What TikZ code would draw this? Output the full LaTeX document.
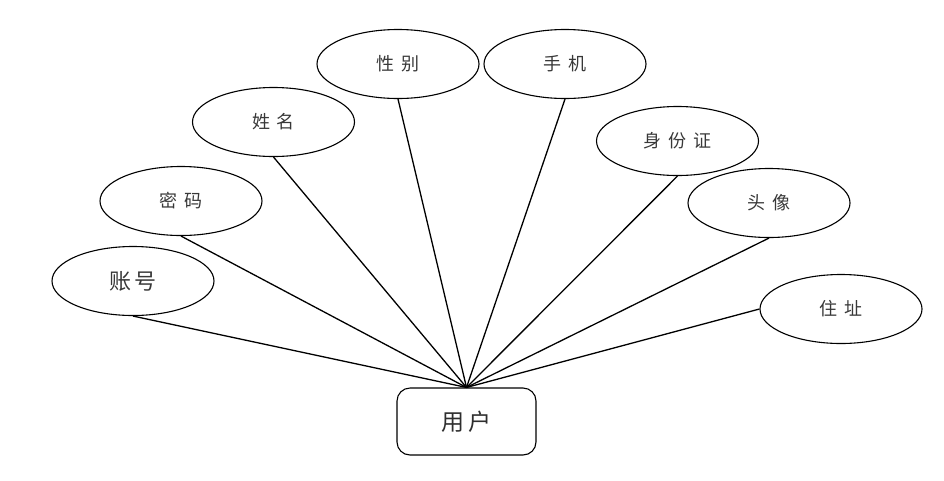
\documentclass[tikz,border=0pt]{standalone}
\usepackage{fontspec}
\newfontfamily\cjk{Noto Sans CJK SC}
\usetikzlibrary{shapes.geometric}
\newcommand{\gp}{\hspace{7pt}}
\begin{document}
\begin{tikzpicture}[x=1pt,y=-1pt,
  attr/.style={ellipse,draw,line width=1.1pt,minimum width=162pt,minimum height=69pt,inner sep=0pt,font=\cjk\fontsize{18}{18}\selectfont,text=black!78},
  ent/.style={rectangle,draw,rounded corners=13pt,line width=1.1pt,minimum width=139pt,minimum height=67pt,font=\cjk\fontsize{23}{23}\selectfont,text=black!82},
  link/.style={line width=1.3pt}]
\useasboundingbox (0,0) rectangle (944,480);
\node[ent] (u) at (466.5,421.5) {用\hspace{4pt}户};
\node[attr,font=\cjk\fontsize{22}{22}\selectfont] (a1) at (133,281) {账\hspace{3pt}号};
\node[attr] (a2) at (181,201) {密\gp 码};
\node[attr] (a3) at (273.5,122) {姓\gp 名};
\node[attr] (a4) at (398,64) {性\gp 别};
\node[attr] (a5) at (565,64) {手\gp 机};
\node[attr] (a6) at (677.5,141) {身\gp 份\gp 证};
\node[attr] (a7) at (769,203) {头\gp 像};
\node[attr] (a8) at (841,309) {住\gp 址};
\foreach \a in {a1,a2,a3,a4,a5,a6,a7}{\draw[link] (u.north) -- (\a.south);}
\draw[link] (u.north) -- (a8.west);
\end{tikzpicture}
\end{document}
